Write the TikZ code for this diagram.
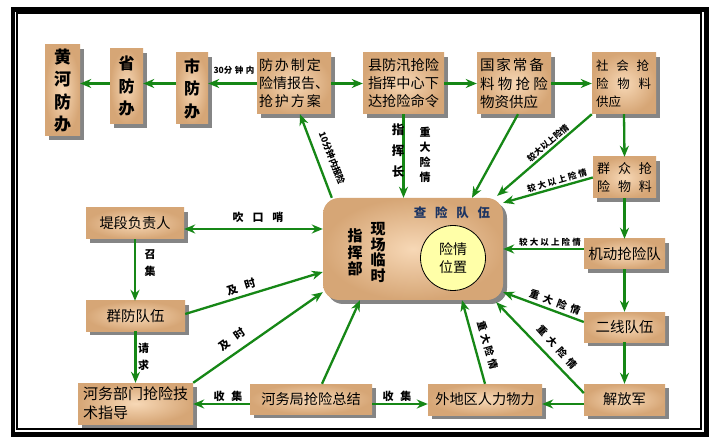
\documentclass[tikz,border=0pt]{standalone}
\usepackage{fontspec}
\setmainfont{Noto Sans CJK SC}
\usetikzlibrary{arrows.meta,shadows,calc}
\definecolor{grn}{RGB}{22,135,22}
\definecolor{tanin}{RGB}{247,216,182}
\definecolor{tanout}{RGB}{214,166,118}
\definecolor{navy}{RGB}{28,52,98}
\definecolor{circfill}{RGB}{255,255,168}
\newcommand\spreadline[2]{\makebox[#1][s]{#2}}
\begin{document}
\begin{tikzpicture}[x=1pt,y=-1pt,
  box/.style={inner color=tanin, outer color=tanout, draw=none, inner sep=0pt,
    drop shadow={shadow xshift=4pt,shadow yshift=-4pt,fill=black!48,opacity=1},
    font=\fontsize{14.2}{18}\selectfont},
  vbox/.style={box, font=\fontsize{16}{22.5}\selectfont\bfseries, align=center},
  arr/.style={draw=grn, line width=2.3pt, -{Stealth[length=11pt,width=9pt,inset=3.5pt]}},
  arrb/.style={draw=grn, line width=2.3pt, {Stealth[length=11pt,width=9pt,inset=3.5pt]}-{Stealth[length=11pt,width=9pt,inset=3.5pt]}},
  lbl/.style={font=\fontsize{9}{10}\selectfont\bfseries, inner sep=0pt},
  lblb/.style={font=\fontsize{11}{12}\selectfont\bfseries, inner sep=0pt},
]
\useasboundingbox (0,0) rectangle (720,446);
\fill[white] (0,0) rectangle (720,446);
% frame
\draw[line width=4.2pt] (13,9.5) rectangle (706.5,434.5);
\draw[line width=1.2pt] (17,13) rectangle (701,429);

% top row
\node[vbox, minimum width=35pt, minimum height=91pt, font=\fontsize{17}{22.5}\selectfont\bfseries] (hh) at (62.5,90.5) {黄\\河\\防\\办};
\node[vbox, minimum width=33pt, minimum height=75pt] (sheng) at (126.5,86.5) {省\\防\\办};
\node[vbox, minimum width=32pt, minimum height=71pt] (shi) at (192,88.5) {市\\防\\办};
\node[box, minimum width=74pt, minimum height=61pt, align=left, font=\fontsize{14}{18}\selectfont] (fb) at (294,83.5)
  {\spreadline{62pt}{防\hfill 办\hfill 制\hfill 定}\\险情报告、\\\spreadline{62pt}{抢\hfill 护\hfill 方\hfill 案}};
\node[box, minimum width=81pt, minimum height=61pt, align=left] (xian) at (403.5,83.5) {县防汛抢险\\指挥中心下\\达抢险命令};
\node[box, minimum width=74pt, minimum height=61pt, align=left, font=\fontsize{14.5}{18.5}\selectfont] (gj) at (514,83.5)
  {\spreadline{64pt}{国\hfill 家\hfill 常\hfill 备}\\\spreadline{68pt}{料\hfill 物\hfill 抢\hfill 险}\\物资供应};
\node[box, minimum width=64pt, minimum height=61pt, align=left, font=\fontsize{12.5}{18}\selectfont] (sh) at (624,83.5)
  {\spreadline{53pt}{社\hfill 会\hfill 抢}\\\spreadline{55pt}{险\hfill 物\hfill 料}\\供应\hspace{31pt}\mbox{}};

% right column
\node[box, minimum width=63pt, minimum height=41pt, align=left, font=\fontsize{13}{18}\selectfont] (qz) at (624.5,177.5)
  {\spreadline{55pt}{群\hfill 众\hfill 抢}\\\spreadline{55pt}{险\hfill 物\hfill 料}};
\node[box, minimum width=81pt, minimum height=30pt, font=\fontsize{14.5}{18}\selectfont] (jd) at (624.5,254) {机动抢险队};
\node[box, minimum width=81pt, minimum height=30pt, font=\fontsize{14.5}{18}\selectfont] (ex) at (624.5,327) {二线队伍};
\node[box, minimum width=81pt, minimum height=31pt] (jfj) at (624.5,399.5) {解放军};

% bottom row
\node[box, minimum width=114pt, minimum height=31pt] (wd) at (485,399.5) {外地区人力物力};
\node[box, minimum width=122pt, minimum height=30pt] (hwj) at (311,399) {河务局抢险总结};
\node[box, minimum width=115pt, minimum height=41pt, align=left, font=\fontsize{15}{19}\selectfont] (hwbm) at (135.5,403.5)
  {河务部门抢险技\\术指导\hspace{60pt}\mbox{}};

% left column
\node[box, minimum width=99pt, minimum height=30pt, font=\fontsize{14.5}{18}\selectfont] (qf) at (135.5,316) {群防队伍};
\node[box, minimum width=98pt, minimum height=31pt] (dd) at (135,223.5) {堤段负责人};

% centre
\node[box, rounded corners=16pt, minimum width=180pt, minimum height=102pt] (center) at (413,249) {};
\node[text=navy, inner sep=0pt, font=\fontsize{12.5}{14}\selectfont\bfseries] (cx) at (452,213)
  {查\hspace{0.7em}险\hspace{0.7em}队\hspace{0.7em}伍};
\node[inner sep=0pt, align=center, font=\fontsize{15}{15.5}\selectfont\bfseries] (c1) at (378,252.5) {现\\场\\临\\时};
\node[inner sep=0pt, align=center, font=\fontsize{15}{16.5}\selectfont\bfseries] (c2) at (355,252.5) {指\\挥\\部};
\node[circle, draw=black, line width=0.8pt, fill=circfill, minimum size=65pt, inner sep=0pt,
  align=center, font=\fontsize{14}{18}\selectfont] (pos) at (453,258) {险情\\位置};

% top row arrows
\draw[arr] (fb.west) -- (fb.west -| shi.east);
\draw[arr] (fb.west -| shi.west) -- (fb.west -| sheng.east);
\draw[arr] (fb.west -| sheng.west) -- (fb.west -| hh.east);
\draw[arr] (fb.east) -- (xian.west);
\draw[arr] (xian.east) -- (gj.west);
\draw[arr] (gj.east) -- (sh.west);
\node[inner sep=0pt, font=\fontsize{8.5}{9}\selectfont\bfseries] (l30) at (234,70) {30分\hspace{0.3em}钟\hspace{0.3em}内};

% right column arrows
\draw[arr] (sh.south) -- (qz.north);
\draw[arr] (qz.south) -- (jd.north);
\draw[arr] (jd.south) -- (ex.north);
\draw[arr] (ex.south) -- (jfj.north);

% into / out of centre (top)
\draw[arr] ([xshift=9pt]center.north west) -- ([xshift=6pt]fb.south);
\node[lbl, rotate=-68.7] (l10) at (332,158) {10分钟内报险};
\draw[arr] (xian.south) -- (xian.south |- center.north);
\node[inner sep=0pt, align=center, font=\fontsize{12.5}{21}\selectfont\bfseries] (lzhc) at (398,151) {指\\挥\\长};
\node[inner sep=0pt, align=center, font=\fontsize{11}{15}\selectfont\bfseries] (lzd1) at (425,154.5) {重\\大\\险\\情};
\draw[arr] ([xshift=4pt]gj.south) -- ([xshift=59pt]center.north);
\draw[arr] (sh.south west) -- ([xshift=-6pt,yshift=2pt]center.north east);
\node[lbl, rotate=40.4, font=\fontsize{8.5}{9}\selectfont\bfseries] (ljd1) at (548,143) {较大以上险情};
\draw[arr] (qz.west) -- ([yshift=-5pt]center.north east);
\node[lbl, rotate=16.1, font=\fontsize{8.5}{9}\selectfont\bfseries] (ljd2) at (557,181) {较\hspace{0.25em}大\hspace{0.25em}以\hspace{0.25em}上\hspace{0.25em}险\hspace{0.25em}情};
\draw[arr] ([yshift=5pt]jd.west) -- ([yshift=5pt]jd.west -| center.east);
\node[lbl, font=\fontsize{8.5}{9}\selectfont\bfseries] (ljd3) at (550,242) {较\hspace{0.25em}大\hspace{0.25em}以\hspace{0.25em}上\hspace{0.25em}险\hspace{0.25em}情};

% into centre (right / bottom)
\draw[arr] ([yshift=5pt]ex.west) -- ([yshift=8pt]center.south east);
\node[lbl, rotate=-20, font=\fontsize{10}{11}\selectfont\bfseries] (lzd2) at (555,302) {重\hspace{0.45em}大\hspace{0.45em}险\hspace{0.45em}情};
\draw[arr] ([yshift=6.5pt]jfj.west) -- ([xshift=-7pt,yshift=-2pt]center.south east);
\node[lbl, rotate=-48, font=\fontsize{10}{11}\selectfont\bfseries] (lzd3) at (557,347) {重\hspace{0.45em}大\hspace{0.45em}险\hspace{0.45em}情};
\draw[arr] (wd.north) -- ([xshift=49pt]center.south);
\node[lbl, rotate=-74, font=\fontsize{10}{11}\selectfont\bfseries] (lzd4) at (487.5,345) {重\hspace{0.3em}大\hspace{0.3em}险\hspace{0.3em}情};
\draw[arr] ([xshift=11pt]hwj.north) -- ([xshift=-53pt]center.south);

% left side
\draw[arr] (hwbm.north east) -- ([yshift=8pt]center.south west);
\node[lblb, rotate=35.6] (ljs1) at (232,339.5) {及\hspace{0.7em}时};
\draw[arr] ([yshift=2pt]qf.east) -- ([yshift=-23pt]center.west);
\node[lblb, rotate=17] (ljs2) at (241,287) {及\hspace{0.7em}时};
\draw[arrb] ([yshift=-5.5pt]dd.east) -- ([yshift=-5.5pt]dd.east -| center.west);
\node[lblb] (lckl) at (258,217) {吹\hspace{0.8em}口\hspace{0.8em}哨};
\draw[arr] (dd.south) -- (dd.south |- qf.north);
\node[inner sep=0pt, align=center, font=\fontsize{11}{17}\selectfont\bfseries] (lzj) at (150,263.5) {召\\集};
\draw[arr] (qf.south) -- (qf.south |- hwbm.north);
\node[inner sep=0pt, align=center, font=\fontsize{11}{17}\selectfont\bfseries] (lqq) at (143.5,356.5) {请\\求};

% bottom row arrows
\draw[arr] ([yshift=-5pt]hwj.west) -- ([yshift=-5pt]hwj.west -| hwbm.east);
\node[lblb] (lsj1) at (228,396) {收\hspace{0.6em}集};
\draw[arr] ([yshift=-5pt]hwj.east) -- ([yshift=-5pt]hwj.east -| wd.west);
\node[lblb] (lsj2) at (397,396) {收\hspace{0.6em}集};
\draw[arr] ([yshift=-4.5pt]jfj.west) -- ([yshift=-4.5pt]jfj.west -| wd.east);
\end{tikzpicture}
\end{document}
